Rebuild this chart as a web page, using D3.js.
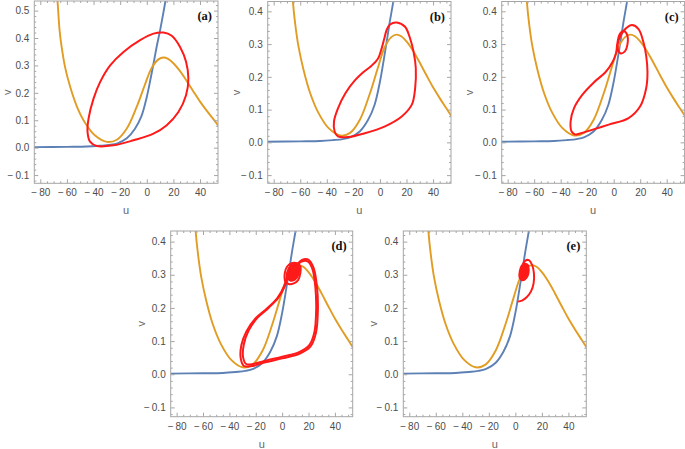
<!DOCTYPE html>
<html>
<head>
<meta charset="utf-8">
<script src="https://cdn.jsdelivr.net/npm/d3@7"></script>
<style>
  html, body { margin: 0; padding: 0; background: #fff; }
  svg { display: block; }
</style>
</head>
<body>
<script>
// ---------------- DATA ----------------
const uDomain = [-84.5, 53.5];
const uTicks = [-80, -60, -40, -20, 0, 20, 40];
const vTicksA = [-0.1, 0.0, 0.1, 0.2, 0.3, 0.4, 0.5];
const vTicksB = [-0.1, 0.0, 0.1, 0.2, 0.3, 0.4];
const panelLabels = ["(a)", "(b)", "(c)", "(d)", "(e)"];

// blue nullcline [u, v]
const blueNullcline = [[-85,0.002],[-60,0.003],[-45,0.004],[-35,0.007],[-28,0.010],[-22,0.016],
  [-15,0.034],[-9,0.068],[-4,0.115],[0,0.185],[3,0.255],[5.5,0.318],[7.5,0.370],[10,0.428],
  [12,0.480],[14,0.535],[15,0.565]];

// orange nullcline [u, v]
const orangeNullcline = [[-68,0.570],[-67.1,0.535],[-65.5,0.428],[-63.8,0.362],[-61.3,0.292],
  [-57.5,0.221],[-52.5,0.150],[-46.3,0.090],[-38.8,0.044],[-30,0.021],[-22.5,0.029],[-15,0.070],
  [-7.5,0.150],[-1.3,0.231],[3.75,0.292],[8.75,0.322],[12.5,0.329],[16,0.324],[20,0.308],
  [25,0.279],[30,0.243],[35,0.205],[40,0.168],[45,0.135],[50,0.104],[55,0.073]];

// red trajectories [u, v]
const cycleA = [[12.5,0.420],[5,0.416],[-5,0.392],[-17.5,0.349],[-27.5,0.300],[-35,0.240],
  [-40,0.179],[-43.75,0.106],[-44.5,0.057],[-42.5,0.021],[-37.5,0.006],[-25,0.0085],[-10,0.027],
  [5,0.051],[15,0.082],[23.75,0.130],[29.5,0.191],[31.25,0.252],[29.5,0.313],[25,0.367],[18.75,0.408]];

const cycleB = [[12.6,0.366],[7.6,0.360],[5.05,0.343],[3.3,0.317],[1.3,0.287],[-1.3,0.257],
  [-6.3,0.234],[-12.6,0.214],[-18.9,0.189],[-26,0.150],[-31.6,0.104],[-34.6,0.064],[-34.1,0.033],
  [-31.6,0.018],[-24,0.016],[-11.4,0.028],[3.8,0.049],[16.4,0.079],[24,0.115],[26.5,0.165],
  [27,0.226],[25.3,0.277],[22.7,0.317],[18.9,0.353]];

const cycleC = [[-28.75,0.023],[-18.75,0.035],[-3.75,0.054],[11.25,0.074],[20,0.110],[24.5,0.165],
  [25.5,0.215],[24.5,0.265],[22.5,0.305],[18.75,0.346],[13.75,0.358],[9.25,0.348],[6.25,0.333],
  [3.75,0.312],[3,0.287],[5,0.272],[8.25,0.277],[10.5,0.302],[10,0.330],[7.5,0.340],[4.5,0.330],
  [2.75,0.302],[1.75,0.272],[-0.75,0.246],[-6.25,0.214],[-15,0.183],[-23.75,0.145],[-30,0.104],
  [-32.5,0.064],[-31.75,0.033],[-28.75,0.023]];

const cycleD1 = [[11.3,0.330],[15.1,0.345],[20.1,0.345],[23.9,0.320],[26.4,0.264],[27.1,0.194],
  [25.6,0.124],[21.4,0.083],[12.6,0.061],[0,0.048],[-12.6,0.036],[-22.6,0.025],[-28.9,0.025],
  [-31.4,0.048],[-30.9,0.088],[-27.1,0.129],[-20.1,0.169],[-11.3,0.199],[-3.8,0.229],[1.3,0.264],
  [3.3,0.289],[4,0.310],[7,0.330]];
const cycleD2 = [[10.5,0.326],[14.8,0.340],[19.6,0.340],[23.0,0.317],[25.2,0.262],[25.8,0.194],
  [24.4,0.126],[20.6,0.088],[12.4,0.066],[0,0.053],[-12.4,0.041],[-22,0.031],[-27.3,0.031],
  [-29.6,0.051],[-29.1,0.089],[-25.6,0.130],[-18.8,0.170],[-10.3,0.200],[-3,0.230],[2,0.265],
  [4,0.290],[5,0.310]];
const spiralD = [[2.5,0.279],[2,0.305],[3.8,0.325],[7,0.335],[11.3,0.335],[13.8,0.325],
  [13.8,0.305],[12.1,0.284],[8.8,0.274],[5,0.272]];
const blobD = [[4,0.300],[5,0.320],[7.5,0.332],[10.5,0.334],[12.8,0.325],[13,0.308],
  [11.5,0.292],[9,0.283],[6,0.282],[4.5,0.288]];

const cycleE = [[1.8,0.219],[5,0.222],[8.5,0.232],[11.8,0.250],[13.8,0.275],[14,0.305],
  [12.6,0.330],[10.2,0.344],[7.6,0.343],[5.8,0.333],[5,0.320],[6,0.305]];
const blobE = [[3,0.292],[3.2,0.312],[4.6,0.327],[7,0.334],[9.5,0.330],[10.3,0.315],
  [9.5,0.297],[7.5,0.286],[5,0.283]];

// ---------------- LAYOUT ----------------
const W = 685, H = 449;
const panels = [
  { x0: 34.3,  x1: 218,   y0: 1,   y1: 183.3, vDomain: [-0.13, 0.535], vTicks: vTicksA, vLabelX: 8,
    paths: [{ d: cycleA, closed: true }], blobs: [] },
  { x0: 267.7, x1: 451,   y0: 1.5, y1: 183.3, vDomain: [-0.125, 0.43], vTicks: vTicksB, vLabelX: 237,
    paths: [{ d: cycleB, closed: true }], blobs: [] },
  { x0: 501.7, x1: 684.6, y0: 1.5, y1: 183.3, vDomain: [-0.125, 0.43], vTicks: vTicksB, vLabelX: 470,
    paths: [{ d: cycleC, closed: false }], blobs: [] },
  { x0: 170.7, x1: 352.7, y0: 231, y1: 416.7, vDomain: [-0.128, 0.432], vTicks: vTicksB, vLabelX: 142,
    paths: [{ d: cycleD1, closed: false }, { d: cycleD2, closed: false }, { d: spiralD, closed: true }], blobs: [blobD] },
  { x0: 403.3, x1: 586.3, y0: 231, y1: 416.7, vDomain: [-0.128, 0.432], vTicks: vTicksB, vLabelX: 374,
    paths: [{ d: cycleE, closed: false }], blobs: [blobE] }
];

const BLUE = "#5e81b5", ORANGE = "#e19c24", RED = "#ff1a1a";
const FRAME = "#a6a6a6", TXT = "#4d4d4d";

const svg = d3.select("body").append("svg").attr("width", W).attr("height", H);

const fmtU = d => d < 0 ? "\u2212\u2009" + Math.abs(d) : String(d);
const fmtV = d => d < 0 ? "\u2212\u2009" + Math.abs(d).toFixed(1) : d.toFixed(1);

panels.forEach((p, i) => {
  const x = d3.scaleLinear().domain(uDomain).range([p.x0, p.x1]);
  const y = d3.scaleLinear().domain(p.vDomain).range([p.y1, p.y0]);
  const g = svg.append("g");

  const clipId = "clip" + i;
  svg.append("clipPath").attr("id", clipId).append("rect")
    .attr("x", p.x0).attr("y", p.y0).attr("width", p.x1 - p.x0).attr("height", p.y1 - p.y0);

  const plot = g.append("g").attr("clip-path", `url(#${clipId})`);
  const lineOpen = d3.line().x(d => x(d[0])).y(d => y(d[1])).curve(d3.curveCatmullRom.alpha(0.5));
  const lineClosed = d3.line().x(d => x(d[0])).y(d => y(d[1])).curve(d3.curveCatmullRomClosed.alpha(0.5));

  plot.append("path").datum(blueNullcline).attr("d", lineOpen)
    .attr("fill", "none").attr("stroke", BLUE).attr("stroke-width", 1.9);
  plot.append("path").datum(orangeNullcline).attr("d", lineOpen)
    .attr("fill", "none").attr("stroke", ORANGE).attr("stroke-width", 1.9);

  p.blobs.forEach(b => {
    plot.append("path").datum(b).attr("d", lineClosed)
      .attr("fill", RED).attr("stroke", RED).attr("stroke-width", 1.5);
  });
  p.paths.forEach(c => {
    plot.append("path").datum(c.d).attr("d", c.closed ? lineClosed : lineOpen)
      .attr("fill", "none").attr("stroke", RED).attr("stroke-width", 2).attr("stroke-linejoin", "round");
  });

  // frame
  g.append("rect").attr("x", p.x0).attr("y", p.y0)
    .attr("width", p.x1 - p.x0).attr("height", p.y1 - p.y0)
    .attr("fill", "none").attr("stroke", FRAME).attr("stroke-width", 1);

  const uMinor = d3.range(-80, 55, 5).filter(v => v % 20 !== 0 && v > uDomain[0] && v < uDomain[1]);
  const vMinor = d3.range(-6, 28).filter(k => k % 5 !== 0).map(k => k * 0.02)
    .filter(v => v > p.vDomain[0] && v < p.vDomain[1]);

  const styleAxis = sel => {
    sel.select(".domain").remove();
    sel.selectAll("line").attr("stroke", FRAME);
    sel.selectAll("text").attr("fill", TXT).attr("font-family", "Liberation Sans, Arial, sans-serif")
      .attr("font-size", 10);
  };

  g.append("g").attr("transform", `translate(0,${p.y1})`)
    .call(d3.axisBottom(x).tickValues(uTicks).tickSize(-4).tickPadding(6).tickFormat(fmtU)).call(styleAxis);
  g.append("g").attr("transform", `translate(0,${p.y1})`)
    .call(d3.axisBottom(x).tickValues(uMinor).tickSize(-2).tickFormat("")).call(styleAxis);
  g.append("g").attr("transform", `translate(0,${p.y0})`)
    .call(d3.axisTop(x).tickValues(uTicks).tickSize(-4).tickFormat("")).call(styleAxis);
  g.append("g").attr("transform", `translate(0,${p.y0})`)
    .call(d3.axisTop(x).tickValues(uMinor).tickSize(-2).tickFormat("")).call(styleAxis);

  g.append("g").attr("transform", `translate(${p.x0},0)`)
    .call(d3.axisLeft(y).tickValues(p.vTicks).tickSize(-4).tickPadding(5).tickFormat(fmtV)).call(styleAxis);
  g.append("g").attr("transform", `translate(${p.x0},0)`)
    .call(d3.axisLeft(y).tickValues(vMinor).tickSize(-2).tickFormat("")).call(styleAxis);
  g.append("g").attr("transform", `translate(${p.x1},0)`)
    .call(d3.axisRight(y).tickValues(p.vTicks).tickSize(-4).tickFormat("")).call(styleAxis);
  g.append("g").attr("transform", `translate(${p.x1},0)`)
    .call(d3.axisRight(y).tickValues(vMinor).tickSize(-2).tickFormat("")).call(styleAxis);

  // axis labels
  g.append("text").attr("x", (p.x0 + p.x1) / 2).attr("y", p.y1 + 31)
    .attr("text-anchor", "middle").attr("fill", "#666")
    .attr("font-family", "Liberation Sans, Arial, sans-serif").attr("font-size", 11).text("u");
  const vy = (p.y0 + p.y1) / 2;
  g.append("text").attr("transform", `translate(${p.vLabelX + 3},${vy}) rotate(-90)`)
    .attr("text-anchor", "middle").attr("fill", "#666")
    .attr("font-family", "Liberation Sans, Arial, sans-serif").attr("font-size", 11).text("v");

  // panel label
  g.append("text").attr("x", p.x1 - 6).attr("y", p.y0 + 19)
    .attr("text-anchor", "end").attr("fill", "#111")
    .attr("font-family", "Liberation Serif, Times New Roman, serif").attr("font-weight", "bold")
    .attr("font-size", 12.5).text(panelLabels[i]);
});
</script>
</body>
</html>
